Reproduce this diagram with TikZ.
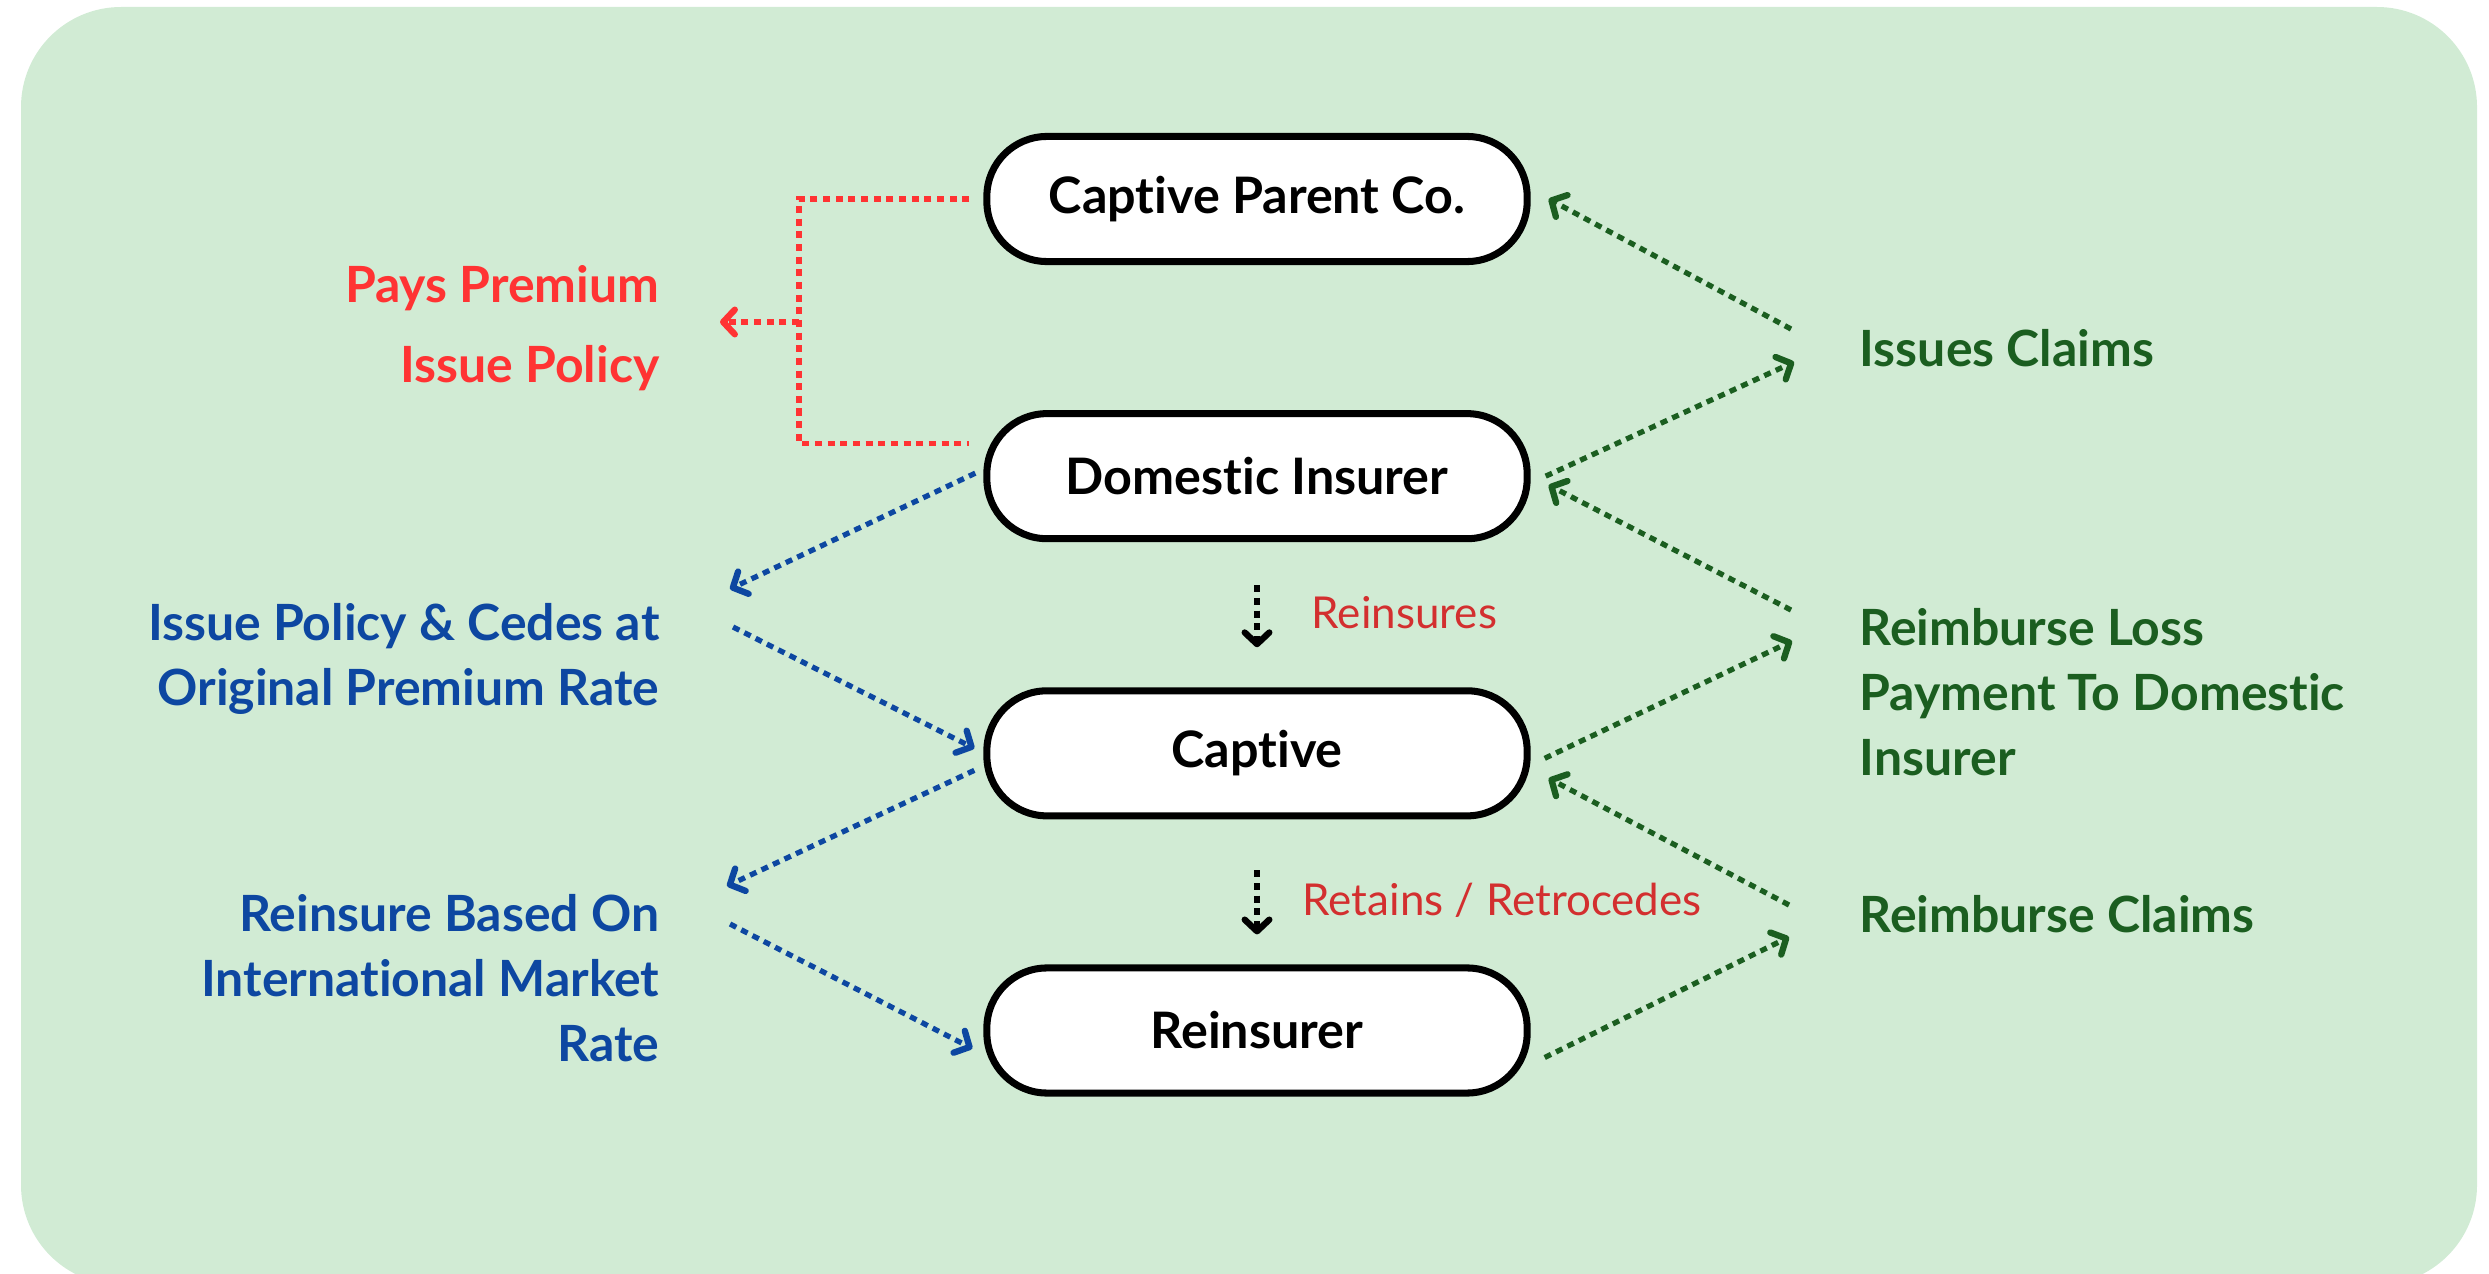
\documentclass[tikz,border=0pt]{standalone}
\usepackage{fontspec}
\setmainfont{Lato}[Ligatures=NoCommon]
\usepackage{xcolor}
\usepackage{tikz}
\usetikzlibrary{positioning}
\usetikzlibrary{arrows.meta}
\definecolor{bgmint}{HTML}{D1EBD4}
\definecolor{payred}{HTML}{FF3333}
\definecolor{darkred}{HTML}{D32F2F}
\definecolor{cedeblue}{HTML}{0D47A1}
\definecolor{claimgreen}{HTML}{1B5E20}

\begin{document}
\begin{tikzpicture} [x = 0.01cm, y = -0.01cm, node distance = 2.77cm,
    main/.style = {draw, line width=2pt, fill=white, rounded corners=0.6cm, minimum width=5.4cm, minimum height=1.25cm, font=\fontsize{14.3}{17}\selectfont\bfseries},
    lbl/.style = {font=\fontsize{14.2}{18.5}\selectfont\bfseries, inner sep=0pt},
    small/.style = {font=\fontsize{12.5}{14}\selectfont, inner sep=0pt},
    plain/.style = {line width=1.5pt, dash pattern=on 2pt off 1.6pt},
    edge/.style = {plain, -{Straight Barb[length=3.3pt, width=7pt, line width=1.8pt, round]}}]
    \useasboundingbox (0,0) rectangle (2489,1273);
    \fill[bgmint, rounded corners=1cm] (21,7) rectangle (2477,1285);

    \node[main] (parent) at (1257,199) {Captive Parent Co.};
    \node[main, below of = parent] (domestic) {Domestic Insurer};
    \node[main, below of = domestic] (captive) {Captive};
    \node[main, below of = captive] (reinsurer) {Reinsurer};

    % left side
    \node[lbl, payred, anchor=east] (pays) at (660,288) {Pays Premium};
    \node[lbl, payred, anchor=east] (issue) at (660,368) {Issue Policy};
    \node[lbl, cedeblue, anchor=east, align=right] (cedes) at (660,659) {Issue Policy \& Cedes at\\Original Premium Rate};
    \node[lbl, cedeblue, anchor=east, align=right] (market) at (660,978) {Reinsure Based On\\International Market\\Rate};

    % right side
    \node[lbl, claimgreen, anchor=west] (claims) at (1859,348) {Issues Claims};
    \node[lbl, claimgreen, anchor=west, align=left] (loss) at (1859,692) {Reimburse Loss\\Payment To Domestic\\Insurer};
    \node[lbl, claimgreen, anchor=west] (reimb) at (1859,914) {Reimburse Claims};

    % middle
    \node[small, darkred, anchor=west] (reinsures) at (1311,613) {Reinsures};
    \node[small, darkred, anchor=west] (retains) at (1302,900) {Retains / Retrocedes};

    % loose ends
    \coordinate (redjoin) at (799,322);
    \coordinate (redtip) at (720,322);
    \coordinate (bl1) at (730,589);
    \coordinate (bl2) at (733,627);
    \coordinate (bl3) at (727,886);
    \coordinate (bl4) at (730,924);
    \coordinate (gr1) at (1791,329);
    \coordinate (gr2) at (1794,362);
    \coordinate (gr3) at (1791,610);
    \coordinate (gr4) at (1792,641);
    \coordinate (gr5) at (1789,905);
    \coordinate (gr6) at (1789,937);

    \draw[plain, payred] ([xshift=-0.14cm]parent.west) -| (redjoin) |- ([xshift=-0.14cm, yshift=0.33cm]domestic.west);
    \draw[edge, payred] (redjoin) -- (redtip);

    \draw[edge, cedeblue] ([xshift=-0.08cm, yshift=0.03cm]domestic.west) -- (bl1);
    \draw[edge, cedeblue] (bl2) -- ([xshift=-0.09cm, yshift=0.05cm]captive.west);
    \draw[edge, cedeblue] ([xshift=-0.09cm, yshift=-0.17cm]captive.west) -- (bl3);
    \draw[edge, cedeblue] (bl4) -- ([xshift=-0.11cm, yshift=-0.18cm]reinsurer.west);

    \draw[edge, claimgreen] (gr1) -- ([xshift=0.18cm]parent.east);
    \draw[edge, claimgreen] ([xshift=0.15cm]domestic.east) -- (gr2);
    \draw[edge, claimgreen] (gr3) -- ([xshift=0.18cm, yshift=-0.09cm]domestic.east);
    \draw[edge, claimgreen] ([xshift=0.14cm, yshift=-0.05cm]captive.east) -- (gr4);
    \draw[edge, claimgreen] (gr5) -- ([xshift=0.18cm, yshift=-0.25cm]captive.east);
    \draw[edge, claimgreen] ([xshift=0.14cm, yshift=-0.27cm]reinsurer.east) -- (gr6);

    \draw[edge] ([yshift=-0.43cm]domestic.south) -- ([yshift=0.4cm]captive.north);
    \draw[edge] ([yshift=-0.51cm]captive.south) -- ([yshift=0.3cm]reinsurer.north);
\end{tikzpicture}
\end{document}
